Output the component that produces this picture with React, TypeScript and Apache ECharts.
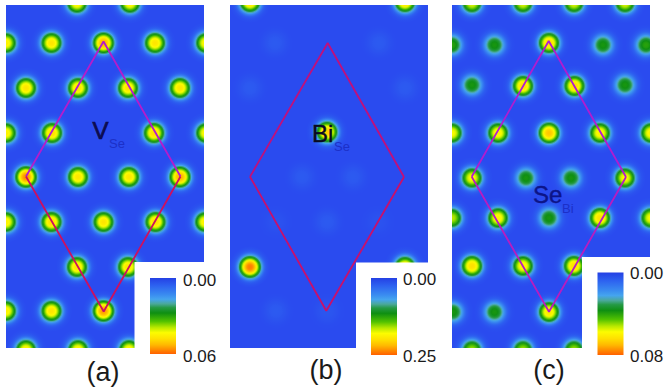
import React, { useEffect, useRef } from "react";
import * as echarts from "echarts";

// density peaks: [x, y, value] (axes run in picture pixels)
const peaksA = [
  [77,3,.045],[130,3,.045],
  [6,43,.045],[51.5,43,.047],[103.5,43,.053],[155,43,.047],[206,43,.045],
  [26,88,.047],[78,88,.047],[128,88,.047],[180,88,.047],
  [6,133,.045],[52,133,.048],[154,133,.048],[206,133,.045],
  [26,177,.056],[78,177,.047],[129,177,.047],[180,177,.053],
  [6,222,.045],[51.5,222,.048],[103.5,222,.047],[155.5,222,.048],[205,222,.045],
  [77,267,.047],[128,267,.047],
  [6,311,.045],[51.5,311,.047],[103.5,311,.055],
  [26,350,.045],[78,350,.045],[129,350,.045],
];
const peaksB = [
  [250,2,.2],[405,2,.2],[327,132,.21],[250,267,.24],[405,267,.2],
  [275,43,.016],[379,43,.016],[250,88,.016],[405,88,.016],
  [302,177,.016],[353,177,.016],[327,222,.016],[276,222,.008],[378,222,.008],
  [276,311,.016],[327,311,.012],
];
const peaksC = [
  [472,3,.055],[523,3,.055],[574,3,.055],[625,3,.055],
  [452,45,.04],[494.5,45,.038],[549,43,.064],[603,45,.038],[646,45,.04],
  [472,85,.038],[523,86,.064],[574.5,86,.064],[625,85,.038],
  [452,133,.058],[498,133,.06],[549,133,.068],[600,133,.06],[651,133,.06],
  [472,178,.058],[526,178,.038],[571,178,.038],[625,178,.058],
  [452,218,.052],[498,218,.06],[549,218,.038],[600,218,.064],[651,218,.058],
  [472,266,.064],[523,266,.06],[574,266,.064],
  [453,312,.038],[494.5,312,.038],[549,312,.062],
  [472,350,.05],[523,350,.05],[574,350,.05],
];
const scaleMaxes = [0.06, 0.25, 0.08];
const scaleLabels = [["0.00","0.06"],["0.00","0.25"],["0.00","0.08"]];
const panelNames = ["(a)","(b)","(c)"];
const diamondTops = [
  [[26,176.5],[103.5,41.5],[180.5,176.5]],
  [[250,176.7],[327.7,43],[404,177]],
  [[471.7,176.7],[548.7,41],[626,177]],
];
const diamondBottoms = [
  [[26,176.5],[103.7,311.5],[180.5,176.5]],
  [[250,176.7],[326.3,310.7],[404,177]],
  [[471.7,176.7],[549,311.7],[626,177]],
];

const COLORMAP: [number, string][] = [
  [0, "#2a4bef"],[.1, "#2d62f0"],[.22, "#3a8cf0"],[.28, "#45a5ee"],[.34, "#4aa89a"],
  [.39, "#259a45"],[.46, "#0f8f12"],[.57, "#52c200"],[.65, "#b8e800"],[.72, "#fcfc00"],
  [.8, "#ffe000"],[.88, "#ffb800"],[1, "#ff6000"],
];
const BG = "#2a4bef";
const hex = (c: string) => [1,3,5].map((i) => parseInt(c.slice(i,i+2),16));
function cmap(v: number) {
  for (let i = 1; i < COLORMAP.length; i++) {
    const [p1, c1] = COLORMAP[i];
    if (v <= p1) {
      const [p0, c0] = COLORMAP[i-1];
      const t = (v-p0)/(p1-p0), a = hex(c0), b = hex(c1);
      return `rgb(${a.map((x,k)=>Math.round(x+(b[k]-x)*t)).join(",")})`;
    }
  }
  return COLORMAP[COLORMAP.length-1][1];
}
const BLOB_R = 21;
function blobFill(amp: number) {
  const stops = [];
  for (let i = 0; i <= 20; i++) {
    const f = i/20, r = f*BLOB_R;
    const v = amp*Math.exp(-Math.pow(r/11,2.6));
    stops.push({ offset: f, color: i === 20 ? "rgba(42,75,239,0)" : cmap(v) });
  }
  return new echarts.graphic.RadialGradient(0.5,0.5,0.5,stops);
}

const PANELS = [
  { l: 6, r: 204, cut: [134.5,262], bar: [150,278,26,76], lx: 183, ly: [280,356], nx: 103, ny: 372 },
  { l: 230, r: 428, cut: [356,262.5], bar: [371,278,26,77], lx: 403, ly: [279,356], nx: 326, ny: 370 },
  { l: 452, r: 650, cut: [582,257], bar: [597.5,272.5,26,82.5], lx: 630, ly: [273,356], nx: 549, ny: 370 },
];
const TOP = 5, BOTTOM = 348;
const LINE_COLORS = [["#b41ccc","#cc1060"],["#c0107c","#c8106c"],["#b01cd0","#b81cc0"]];

export default function App() {
  const ref = useRef<HTMLDivElement>(null);
  useEffect(() => {
    const chart = echarts.init(ref.current!, undefined, { renderer: "svg" });
    const allPeaks = [peaksA, peaksB, peaksC];
    const series: any[] = [];
    const graphic: any[] = [];
    const T = (text: string, x: number, y: number, size: number, fill: string, extra: any = {}) => ({
      type: "text", z: 120, x, y,
      style: { text, fill, font: `${size}px "Liberation Sans", Arial, sans-serif`, textVerticalAlign: "middle", textAlign: "left", ...extra },
    });
    PANELS.forEach((p, i) => {
      const fills = allPeaks[i].map((d) => blobFill(d[2]/scaleMaxes[i]));
      series.push({
        type: "custom", coordinateSystem: "cartesian2d", xAxisIndex: i, yAxisIndex: i, clip: true, silent: true, z: 2,
        data: allPeaks[i],
        encode: { x: 0, y: 1 },
        renderItem: (params: any, api: any) => {
          const [cx, cy] = api.coord([api.value(0), api.value(1)]);
          return { type: "circle", shape: { cx, cy, r: BLOB_R }, style: { fill: fills[params.dataIndex] } };
        },
      });
      [diamondTops[i], diamondBottoms[i]].forEach((seg, k) => series.push({
        type: "line", xAxisIndex: i, yAxisIndex: i, symbol: "none", z: 4, silent: true, clip: false,
        data: seg, lineStyle: { color: LINE_COLORS[i][k], width: 1.8 },
      }));
      graphic.push({ type: "rect", z: 100, shape: { x: p.cut[0], y: p.cut[1], width: p.r-p.cut[0]+1, height: BOTTOM-p.cut[1]+2 }, style: { fill: "#fff" } });
      graphic.push({ type: "rect", z: 110, shape: { x: p.bar[0], y: p.bar[1], width: p.bar[2], height: p.bar[3] },
        style: { fill: new echarts.graphic.LinearGradient(0,0,0,1,COLORMAP.map(([offset,color]) => ({ offset, color: offset === 0 ? "#2440e4" : color }))) } });
      graphic.push(T(scaleLabels[i][0], p.lx, p.ly[0], 17, "#1a1a1a"));
      graphic.push(T(scaleLabels[i][1], p.lx, p.ly[1], 17, "#1a1a1a"));
      graphic.push(T(panelNames[i], p.nx, p.ny, 27, "#1a1a1a", { textAlign: "center" }));
    });
    graphic.push(T("V", 92.5, 130, 24, "#0c0c50", { stroke: "#0c0c50", lineWidth: 0.7 }));
    graphic.push(T("Se", 109, 143, 13, "#1c30c8"));
    graphic.push(T("Bi", 312, 133.5, 24, "#0a0a20", { stroke: "#0a0a20", lineWidth: 0.4 }));
    graphic.push(T("Se", 334, 146, 13, "#1c30c8"));
    graphic.push(T("Se", 533, 194, 24, "#0c1488", { stroke: "#0c1488", lineWidth: 0.4 }));
    graphic.push(T("Bi", 562, 208, 13, "#1c30c8"));
    chart.setOption({
      animation: false,
      backgroundColor: "#fff",
      grid: PANELS.map((p) => ({ left: p.l, top: TOP, width: p.r-p.l, height: BOTTOM-TOP, show: true, backgroundColor: BG, borderWidth: 0 })),
      xAxis: PANELS.map((p, i) => ({ type: "value", gridIndex: i, min: p.l, max: p.r, show: false })),
      yAxis: PANELS.map((p, i) => ({ type: "value", gridIndex: i, min: TOP, max: BOTTOM, inverse: true, show: false })),
      series,
      graphic: { elements: graphic },
    });
    return () => chart.dispose();
  }, []);
  return <div ref={ref} style={{ position: "fixed", left: 0, top: 0, width: 665, height: 391 }} />;
}
